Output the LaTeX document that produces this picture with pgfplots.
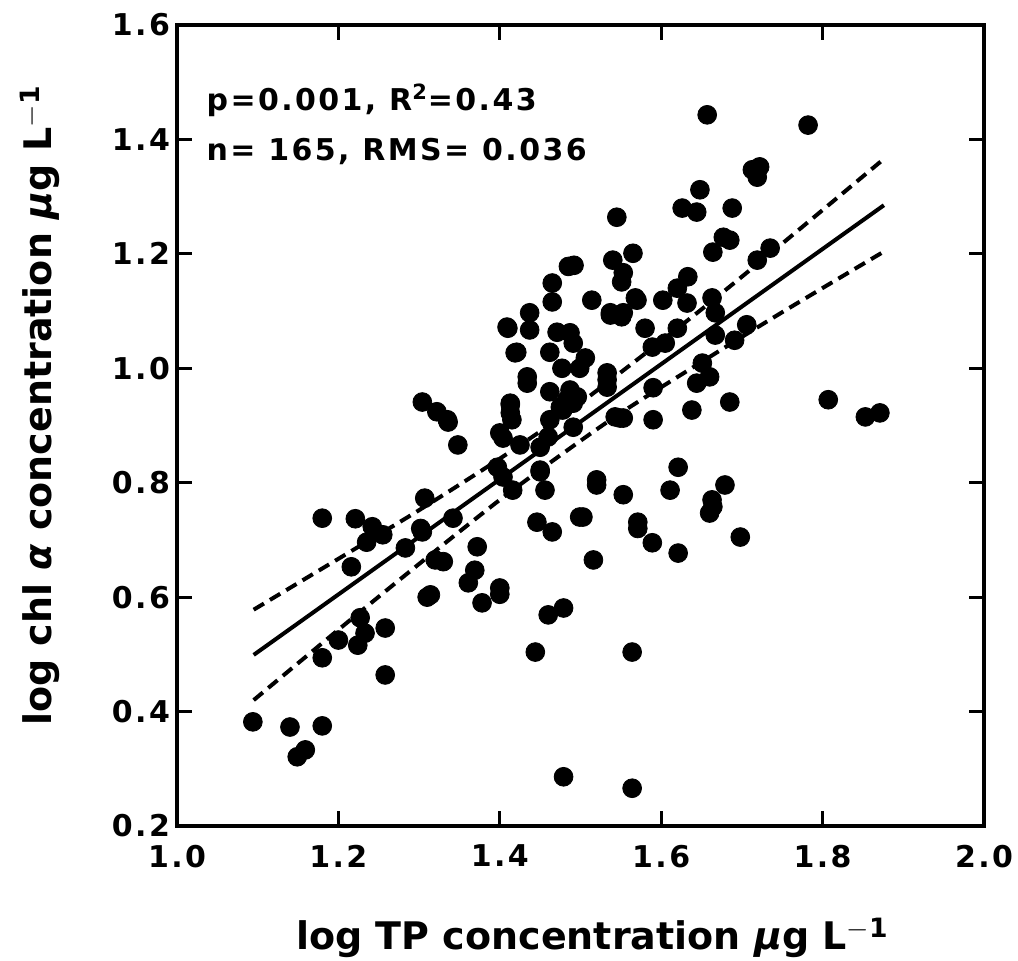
\documentclass[border=0pt]{standalone}
\usepackage{fontspec}
\setmainfont{DejaVu Sans}
\newfontfamily\wideb[LetterSpace=8]{DejaVu Sans}
\usepackage{pgfplots}
\pgfplotsset{compat=1.18}
\begin{document}
\begin{tikzpicture}
\begin{axis}[
  name=ax,
  scale only axis,
  width=403.5pt, height=400.5pt,
  xmin=1.0, xmax=2.0, ymin=0.2, ymax=1.6,
  xtick={1.0,1.2,1.4,1.6,1.8,2.0},
  ytick={0.2,0.4,0.6,0.8,1.0,1.2,1.4,1.6},
  xticklabels={1.0,1.2,1.4,1.6,1.8,2.0},
  yticklabels={0.2,0.4,0.6,0.8,1.0,1.2,1.4,1.6},
  tick align=inside,
  major tick length=7.5pt,
  tick style={line width=1.6pt, black},
  axis line style={line width=2pt},
  ticklabel style={font=\wideb\fontsize{15}{17}\selectfont\bfseries},
  /pgf/number format/assume math mode=true,
  xticklabel style={yshift=-6pt},
  yticklabel style={xshift=0pt},
  clip=false,
]
% scatter points
\addplot[only marks, mark=*, mark size=4.7pt, black] coordinates {
(1.094,0.382)(1.140,0.373)(1.180,0.375)(1.159,0.333)(1.149,0.321)
(1.180,0.494)(1.200,0.525)(1.224,0.516)(1.233,0.537)(1.227,0.564)
(1.258,0.546)(1.258,0.464)(1.180,0.738)(1.221,0.737)(1.216,0.653)
(1.242,0.723)(1.255,0.709)(1.235,0.696)(1.307,0.773)(1.304,0.714)
(1.283,0.686)(1.320,0.665)(1.310,0.600)(1.314,0.604)(1.342,0.738)
(1.304,0.941)(1.322,0.924)(1.336,0.906)(1.348,0.866)(1.302,0.720)
(1.330,0.662)(1.372,0.688)(1.369,0.647)(1.361,0.625)(1.378,0.590)
(1.400,0.616)(1.400,0.605)(1.446,0.731)(1.465,0.714)(1.499,0.740)
(1.456,0.787)(1.416,0.787)(1.450,0.819)(1.404,0.810)(1.425,0.866)
(1.450,0.862)(1.404,0.878)(1.413,0.936)(1.415,0.910)(1.419,1.027)
(1.434,0.985)(1.434,0.974)(1.410,1.070)(1.437,1.097)(1.437,1.067)
(1.465,1.149)(1.465,1.116)(1.514,1.119)(1.551,1.151)(1.570,1.119)
(1.537,1.097)(1.551,1.090)(1.409,1.072)(1.471,1.063)(1.487,1.062)
(1.491,1.044)(1.421,1.028)(1.462,1.028)(1.506,1.018)(1.477,1.000)
(1.499,1.000)(1.533,0.992)(1.533,0.967)(1.462,0.959)(1.487,0.962)
(1.491,0.939)(1.475,0.932)(1.413,0.939)(1.413,0.922)(1.462,0.910)
(1.549,0.913)(1.335,0.910)(1.400,0.887)(1.491,0.897)(1.397,0.827)
(1.450,0.822)(1.520,0.805)(1.483,0.945)(1.496,0.950)(1.478,0.927)
(1.648,1.312)(1.626,1.280)(1.644,1.273)(1.688,1.280)(1.545,1.264)
(1.677,1.229)(1.685,1.224)(1.664,1.203)(1.735,1.210)(1.719,1.189)
(1.540,1.189)(1.565,1.201)(1.553,1.167)(1.633,1.160)(1.620,1.140)
(1.568,1.123)(1.602,1.119)(1.632,1.114)(1.663,1.123)(1.667,1.097)
(1.537,1.093)(1.553,1.097)(1.580,1.070)(1.620,1.070)(1.589,1.037)
(1.605,1.044)(1.667,1.058)(1.691,1.049)(1.706,1.076)(1.651,1.009)
(1.660,0.985)(1.644,0.974)(1.590,0.966)(1.533,0.980)(1.638,0.927)
(1.590,0.910)(1.685,0.941)(1.543,0.915)(1.553,0.913)(1.485,1.178)
(1.492,1.180)
(1.657,1.443)(1.782,1.425)(1.713,1.347)(1.722,1.352)(1.719,1.334)
(1.807,0.945)(1.853,0.915)(1.871,0.922)(1.621,0.827)(1.520,0.796)
(1.553,0.779)(1.611,0.787)(1.679,0.796)(1.663,0.770)(1.664,0.758)
(1.660,0.747)(1.503,0.740)(1.571,0.731)(1.571,0.720)(1.589,0.695)
(1.621,0.677)(1.698,0.705)(1.516,0.665)(1.479,0.581)(1.564,0.504)
(1.479,0.286)(1.564,0.266)(1.460,0.569)(1.444,0.504)(1.460,0.880)
};
% regression line
\addplot[black, line width=2pt] coordinates {(1.095,0.499)(1.876,1.285)};
% confidence bands
\addplot[black, line width=2pt, dash pattern=on 6pt off 3.5pt, smooth] coordinates {
(1.095,0.578)(1.2,0.667)(1.3,0.752)(1.4,0.842)(1.48,0.919)(1.55,0.993)(1.65,1.103)(1.75,1.218)(1.876,1.366)};
\addplot[black, line width=2pt, dash pattern=on 6pt off 3.5pt, smooth] coordinates {
(1.095,0.420)(1.2,0.543)(1.3,0.658)(1.4,0.770)(1.48,0.853)(1.55,0.922)(1.65,1.011)(1.75,1.098)(1.876,1.204)};
\node[anchor=base west, font=\wideb\fontsize{15}{17}\selectfont\bfseries] at (axis cs:1.028,1.451) {p=0.001, R$^{\mathbf{2}}$=0.43};
\node[anchor=base west, font=\wideb\fontsize{15}{17}\selectfont\bfseries] at (axis cs:1.028,1.364) {n= 165, RMS= 0.036};
\end{axis}
\node[anchor=base, font=\fontsize{19}{22}\selectfont\bfseries] at ([xshift=6pt,yshift=-62pt]ax.south) {log TP concentration \textit{µ}g L$^{\mathbf{-1}}$};
\node[anchor=base, rotate=90, font=\fontsize{19}{22}\selectfont\bfseries] at ([xshift=-62.5pt,yshift=10pt]ax.west) {log chl \textit{α} concentration \textit{µ}g L$^{\mathbf{-1}}$};
\pgfresetboundingbox
\path ([xshift=-88.5pt,yshift=-67.5pt]ax.south west) rectangle ([xshift=17pt,yshift=12.5pt]ax.north east);
\end{tikzpicture}
\end{document}
